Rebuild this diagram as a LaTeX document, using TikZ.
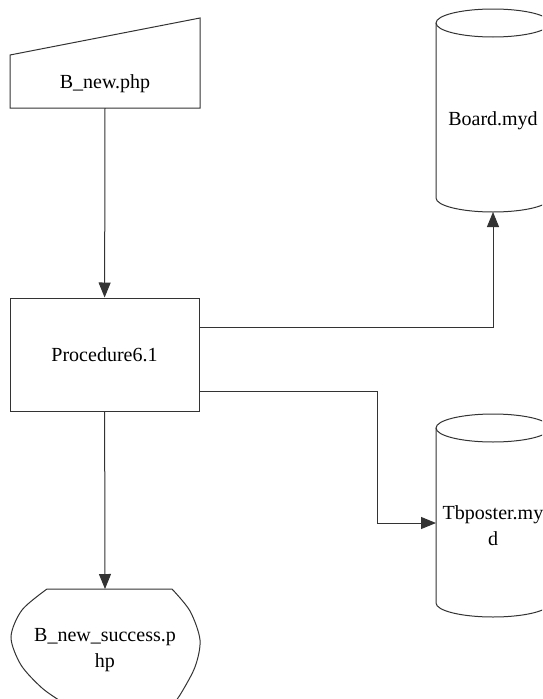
\documentclass[tikz,border=0pt]{standalone}
\usepackage{fontspec}
\setmainfont{Liberation Serif}
\usetikzlibrary{arrows.meta}
\usetikzlibrary{calc}

\begin{document}
\begin{tikzpicture}[x=1pt,y=-1pt,>/.tip={Triangle[width=12pt,length=15pt]},
	line/.style={line width=1pt,black!80},
	lbl/.style={font=\fontsize{20}{26}\selectfont,text=black,align=center,inner sep=0pt}]
	\useasboundingbox (0,0) rectangle (542,699);
	\clip (0,0) rectangle (542,699);
	% manual input
	\draw[line] (10,55) -- (200,18) -- (200,108) -- (10,108) -- cycle;
	\draw (105,84) node (bnew) [lbl] {B\_new.php};
	\coordinate (bnewout) at (105,108);
	% process
	\draw (104.5,354.5) node (proc) [draw,line,minimum width=189pt,minimum height=113pt,lbl] {Procedure6.1};
	% data stores
	\draw[line] (493,23) ellipse (57 and 14);
	\draw[line] (436,23) -- (436,198) arc[start angle=180,end angle=0,x radius=57,y radius=14] -- (550,23);
	\draw (493,121) node (board) [lbl] {Board.myd};
	\coordinate (boardin) at (493,212);
	\draw[line] (493,428) ellipse (57 and 14);
	\draw[line] (436,428) -- (436,603) arc[start angle=180,end angle=0,x radius=57,y radius=14] -- (550,428);
	\draw (493,526) node (tbp) [lbl] {Tbposter.my\\d};
	\coordinate (tbpin) at (436,523);
	% display
	\draw[line] plot[smooth] coordinates {(62,702) (42,688) (21,665) (11,637) (22,610) (47,589)} -- (172,589)
		plot[smooth] coordinates {(172,589) (190,611) (200,640) (195,667) (180,695) (172,705)};
	\draw (105,650) node (succ) [lbl] {B\_new\_success.p\\hp};
	\coordinate (succin) at (105,589);
	% flows
	\draw[line,->] (bnewout) -- (proc);
	\draw[line,->] ([yshift=-30pt]proc.north east) -| (boardin);
	\draw[line,->] ([yshift=20pt]proc.south east) -- ++(178,0) |- (tbpin);
	\draw[line,->] (proc) -- (succin);
\end{tikzpicture}
\end{document}
